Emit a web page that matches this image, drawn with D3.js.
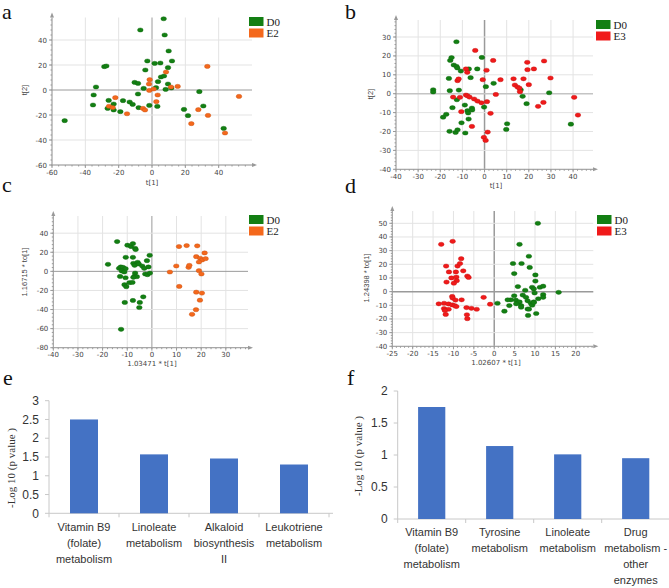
<!DOCTYPE html>
<html>
<head>
<meta charset="utf-8">
<script src="https://cdn.jsdelivr.net/npm/d3@7"></script>
<style>
  body { margin: 0; background: #fff; }
  svg { display: block; }
</style>
</head>
<body>
<svg id="fig" width="669" height="588"></svg>
<script>
const svg = d3.select('#fig');

// ---- data ----
const aD0 = [[-52.4,-24.5],[-35,-4],[-35.4,-12],[-33.6,2.4],[-28.6,18.7],[-27.4,19.2],[-26,-8.3],[-26.6,-14.7],
  [-23,-11.2],[-23,-16],[-19,-17.3],[-17.4,-8.5],[-13.4,-9.6],[-11.6,-11.5],[-10.4,6.1],[-8.4,5.3],[-8.4,-3.2],
  [-8,-14.1],[-7,48],[-5,1.3],[-4,16],[-2.8,23.2],[-1.6,-12.3],[1.6,21.3],[5,21.6],[2.4,1.9],[3.2,-13.1],[3.6,6.7],
  [5.4,10.4],[7,57],[7.6,44],[7.2,11.2],[8.2,0.5],[9.6,4.8],[9.6,17.9],[10,31.2],[12,23.2],[11.6,1.6],[19.2,-15.5],
  [21.6,-20.5],[28.4,-1.3],[30.8,-12.8],[43,-30.7]];
const aE2 = [[-25.8,-13],[-23.6,-14],[-22,-6.1],[-15,-19],[-5.4,-14.7],[-4.2,-16],[-1.4,8.3],[-1.8,4.8],[-1.6,-0.3],
  [1,0.8],[2.6,-9.3],[3.4,-4],[8.4,14.4],[11.4,2.4],[15.4,2.9],[23.6,-26.9],[27.8,-15.7],[33.2,18.9],[33.6,-20.3],
  [43.8,-34.4],[52.2,-5.1]];

const bD0 = [[-23.2,2.1],[-23.2,0.9],[-18.7,-12.4],[-17.3,-10.9],[-15.8,-19.9],[-16.1,8.1],[-15.7,1.6],[-15.5,17.6],
  [-14.9,19.1],[-14.5,-7.4],[-13.9,15.2],[-13.1,-20.5],[-12.7,27.5],[-12.7,14.5],[-12.3,13.6],[-12.5,-3.2],[-12.2,-19.1],
  [-11.6,1.9],[-10.7,12],[-10.4,-15.4],[-8.9,-6],[-8.7,-20.8],[-7.7,-9],[-7.4,-10.2],[-7.2,-13.4],[-7.1,13.1],[-6.3,8.5],
  [-5.7,-7.6],[-5.6,-8.6],[-3.3,13.1],[-1.2,19.2],[-0.2,-7.1],[0.6,3.7],[4.1,5.5],[9.8,-18.9],[10.2,-15.9],[16.3,2.1],
  [17.2,-1.4],[19,-5.3],[29.2,0.5],[39,-16.1]];
const bE3 = [[-4.2,22.9],[-14.2,-1.8],[-12.2,6.9],[-11.7,7.8],[-11.1,-1.9],[-10.5,-9.5],[-8.4,13.1],[-7.8,11.3],
  [-8.4,-0.7],[-7.7,-1.1],[-6.8,-1.8],[-5.7,-17.3],[-4.7,-2.8],[-3.2,-3.9],[-1.4,-4.8],[-0.8,7.4],[-0.3,-23.1],
  [0.5,-24.7],[1.1,-4.2],[0.9,12.4],[1.4,-20.3],[2.7,-10.4],[3.9,17.6],[5.1,-0.4],[7.2,7.4],[13.1,7.9],[13.7,4.6],
  [14.9,3.5],[15.7,3],[16,1.1],[17.6,7.9],[19.3,16.6],[19.4,12.7],[20,4.8],[22.3,13.1],[24.2,-6.7],[26.6,-4.6],
  [26.9,17.3],[29.8,8.3],[40.5,-1.9],[42.2,-11.3]];

const cD0 = [[-14.1,31.2],[-17.8,7.4],[-13.3,3.2],[-12.6,4.6],[-11.7,4.2],[-10.7,2.8],[-12.2,0.4],[-11.2,-0.7],
  [-12.9,-5.3],[-10.7,-6.7],[-11.1,-14],[-10.4,-16.1],[-9.1,-11.9],[-7.9,-11.6],[-10.6,14.7],[-7.7,14.7],[-9.9,27.4],
  [-8.5,26],[-7.7,29.1],[-6.8,24.2],[-6.6,22.8],[-7.5,8.4],[-7,6.3],[-5.8,9.5],[-5.3,7.7],[-6.8,-1.8],[-7,-4.9],
  [-6.1,-5.6],[-7.5,-6.3],[-3.9,5.6],[-3.1,3.2],[-2,11.2],[-1.4,4.6],[-2.7,-2.8],[-1.8,-3.5],[-0.8,-1.8],[-0.9,16.8],
  [-3.5,-26.7],[-11,-32.6],[-7.7,-30.5],[-4.9,-32.6],[-5.1,-37.9],[-12.5,-60.7]];
const cE2 = [[7.3,-0.7],[9.9,5.6],[11,26],[14.1,27],[14.9,4.2],[15.2,6.3],[11.1,-15.8],[18.4,26.7],[18,15.4],
  [21.4,19.3],[19.6,13.7],[20.4,11.9],[21.8,13.3],[19.1,9.8],[19.1,0.7],[20.1,-2.8],[18,-21.8],[20.3,-22.8],
  [19.5,-30.2],[17.9,-40.2],[16.3,-45]];

const dD0 = [[10.7,50],[6.2,34.6],[8.5,25.9],[4.6,20.6],[6.7,20.6],[8.7,17.7],[4.9,13.2],[10.1,12.2],[10.1,7.7],
  [5.8,3.7],[7.6,1],[9.3,3.2],[9.7,2],[11.2,3.2],[12,4],[15.8,-0.5],[12,-2.2],[12,-4.2],[9.9,-1],[10.8,-5.2],
  [4.9,-3],[4.1,-6],[3.3,-6],[5.3,-6.2],[6.2,-7.5],[7,-2.5],[7.8,-4.2],[8.2,-6.7],[9,-8.5],[9.7,-7.5],[6.6,-10.2],
  [8.2,-12.7],[3.7,-10.2],[0.8,-8.5],[2.5,-14.3],[5.4,-8.9],[6.6,-11.4],[8.5,-12.8],[8.3,-17.4],[10.3,-16],
  [9.3,-9.9],[9.7,-8]];
const dE3 = [[-13,34.6],[-10.2,36.8],[-11.8,18.7],[-11.7,7],[-11.1,14.4],[-10.5,10],[-9.4,14.4],[-9.3,10.7],
  [-9.2,8],[-9,18.7],[-8.4,20.6],[-8.1,24.1],[-7.6,15.2],[-6.6,11.4],[-6.3,10.4],[-9.9,6.2],[-10.3,-3.5],[-10.2,-4.7],
  [-9.5,-6.2],[-8,-6],[-2.6,-4.2],[-13.6,-8.9],[-12.3,-8.5],[-11.2,-9],[-10.3,-9.7],[-9.7,-10.2],[-9.3,-10.9],
  [-12.3,-12.4],[-11.2,-12.9],[-6.8,-11.7],[-5.6,-12.2],[-4.3,-12.9],[-1,-9.2],[-12.1,-13.8],[-11.9,-16.7],
  [-6.7,-16.9],[-6.6,-19.8]];

const eCategories = [['Vitamin B9', '(folate)', 'metabolism'], ['Linoleate', 'metabolism'],
  ['Alkaloid', 'biosynthesis', 'II'], ['Leukotriene', 'metabolism']];
const eValues = [2.5, 1.57, 1.46, 1.3];
const eTicks = [0, 0.5, 1, 1.5, 2, 2.5, 3];

const fCategories = [['Vitamin B9', '(folate)', 'metabolism'], ['Tyrosine', 'metabolism'],
  ['Linoleate', 'metabolism'], ['Drug', 'metabolism -', 'other', 'enzymes']];
const fValues = [1.75, 1.14, 1.01, 0.95];
const fTicks = [0, 0.5, 1, 1.5, 2];

const GREEN = '#137f13';
const ORANGE = '#f4681c';
const RED = '#f01a1a';
const BLUE = '#4472c4';
const SERIF = 'Liberation Serif, Times New Roman, serif';

// ---- scatter panels ----
function scatter (p) {
  const x = d3.scaleLinear().domain(p.xDom).range(p.xRange);
  const y = d3.scaleLinear().domain(p.yDom).range(p.yRange);
  const g = svg.append('g');
  const x0 = p.xRange[0], x1 = p.xRange[1], y0 = p.yRange[0], y1 = p.yRange[1];

  // grid
  g.selectAll('line.gx').data(p.xTicks).enter().append('line')
    .attr('x1', d => x(d)).attr('x2', d => x(d)).attr('y1', y0).attr('y2', y1)
    .attr('stroke', d => d === 0 ? '#9a9a9a' : '#e3e3e3').attr('stroke-width', d => d === 0 ? p.zeroW : 1);
  g.selectAll('line.gy').data(p.yTicks).enter().append('line')
    .attr('y1', d => y(d)).attr('y2', d => y(d)).attr('x1', x0).attr('x2', x1)
    .attr('stroke', d => d === 0 ? (p.zeroH || '#9a9a9a') : '#e3e3e3').attr('stroke-width', d => d === 0 ? p.zeroW : 1);

  // axes with minor ticks
  const xStep = p.xTicks[1] - p.xTicks[0], yStep = p.yTicks[1] - p.yTicks[0];
  const xMinor = d3.range(p.xDom[0], p.xDom[1], xStep / 5);
  const yMinor = d3.range(p.yDom[0], p.yDom[1], yStep / 5);
  g.append('line').attr('x1', x0).attr('x2', x1).attr('y1', y0).attr('y2', y0).attr('stroke', '#999');
  g.append('line').attr('x1', x0).attr('x2', x0).attr('y1', y0).attr('y2', y1).attr('stroke', '#999');
  g.selectAll('line.mx').data(xMinor).enter().append('line')
    .attr('x1', d => x(d)).attr('x2', d => x(d)).attr('y1', y0).attr('y2', y0 + 1.5).attr('stroke', '#999');
  g.selectAll('line.my').data(yMinor).enter().append('line')
    .attr('y1', d => y(d)).attr('y2', d => y(d)).attr('x1', x0).attr('x2', x0 - 1.5).attr('stroke', '#999');
  g.selectAll('line.tx').data(p.xTicks).enter().append('line')
    .attr('x1', d => x(d)).attr('x2', d => x(d)).attr('y1', y0).attr('y2', y0 + 3).attr('stroke', '#999');
  g.selectAll('line.ty').data(p.yTicks).enter().append('line')
    .attr('y1', d => y(d)).attr('y2', d => y(d)).attr('x1', x0).attr('x2', x0 - 3).attr('stroke', '#999');
  g.append('path').attr('d', `M${x1},${y0 - 2}L${x1 + 5},${y0}L${x1},${y0 + 2}Z`).attr('fill', '#999');
  g.append('path').attr('d', `M${x0 - 2},${y1}L${x0},${y1 - 5}L${x0 + 2},${y1}Z`).attr('fill', '#999');

  const tickFont = 'DejaVu Sans, Verdana, sans-serif';
  g.selectAll('text.tx').data(p.xTicks).enter().append('text')
    .attr('x', d => x(d)).attr('y', y0 + 9.5).attr('text-anchor', 'middle')
    .attr('font-family', tickFont).attr('font-size', 7).attr('fill', '#444').text(d => d);
  g.selectAll('text.ty').data(p.yTicks).enter().append('text')
    .attr('x', x0 - 5).attr('y', d => y(d) + 2.5).attr('text-anchor', 'end')
    .attr('font-family', tickFont).attr('font-size', 7).attr('fill', '#444').text(d => d);

  // axis titles
  g.append('text').attr('x', p.xLabelPos[0]).attr('y', p.xLabelPos[1]).attr('text-anchor', 'middle')
    .attr('font-family', tickFont).attr('font-size', 7).attr('fill', '#444').text(p.xLabel);
  g.append('text').attr('transform', `translate(${p.yLabelPos[0]},${p.yLabelPos[1]}) rotate(-90)`)
    .attr('text-anchor', 'middle').attr('font-family', 'Liberation Sans Narrow, Liberation Sans, sans-serif')
    .attr('font-size', 7.5).attr('fill', '#444').text(p.yLabel);

  // points
  p.series.forEach(s => {
    g.selectAll(null).data(s.data).enter().append('ellipse')
      .attr('cx', d => x(d[0])).attr('cy', d => y(d[1]))
      .attr('rx', 2.8).attr('ry', 2.1)
      .attr('fill', s.color).attr('stroke', d3.color(s.color).darker(0.6)).attr('stroke-width', 0.4);
  });

  // legend
  p.series.forEach((s, i) => {
    g.append('rect').attr('x', p.legend[0]).attr('y', p.legend[1] + i * 11.5)
      .attr('width', 14.5).attr('height', 9).attr('fill', s.color);
    g.append('text').attr('x', p.legend[0] + 17.5).attr('y', p.legend[1] + i * 11.5 + 8.5)
      .attr('font-family', SERIF).attr('font-size', 11).attr('fill', '#222').text(s.name);
  });

  svg.append('text').attr('x', p.letter[0]).attr('y', p.letter[1])
    .attr('font-family', SERIF).attr('font-size', 22).attr('fill', '#111').text(p.letterText);
}

scatter({
  xDom: [-60, 60], xRange: [52, 252], yDom: [-60, 58], yRange: [165, 17.5],
  xTicks: [-60, -40, -20, 0, 20, 40], yTicks: [-60, -40, -20, 0, 20, 40],
  xLabel: 't[1]', xLabelPos: [152, 185], yLabel: 't[2]', yLabelPos: [27, 90],
  series: [{ name: 'D0', color: GREEN, data: aD0 }, { name: 'E2', color: ORANGE, data: aE2 }],
  legend: [249, 17], letter: [2, 19], letterText: 'a', zeroW: 1
});
scatter({
  xDom: [-40, 49], xRange: [396, 593], yDom: [-40, 39], yRange: [169.3, 20],
  xTicks: [-40, -30, -20, -10, 0, 10, 20, 30, 40], yTicks: [-40, -30, -20, -10, 0, 10, 20, 30],
  xLabel: 't[1]', xLabelPos: [496, 188], yLabel: 't[2]', yLabelPos: [373, 94],
  series: [{ name: 'D0', color: GREEN, data: bD0 }, { name: 'E3', color: RED, data: bE3 }],
  legend: [596, 20], letter: [345, 19], letterText: 'b', zeroW: 1.5, zeroH: '#c4c4c4'
});
scatter({
  xDom: [-40, 39], xRange: [53.3, 248], yDom: [-80, 58], yRange: [347.7, 216],
  xTicks: [-40, -30, -20, -10, 0, 10, 20, 30], yTicks: [-80, -60, -40, -20, 0, 20, 40],
  xLabel: '1.03471 * t[1]', xLabelPos: [152, 366], yLabel: '1.16715 * to[1]', yLabelPos: [27, 272],
  series: [{ name: 'D0', color: GREEN, data: cD0 }, { name: 'E2', color: ORANGE, data: cE2 }],
  legend: [249, 215], letter: [2, 192], letterText: 'c', zeroW: 1
});
scatter({
  xDom: [-25, 24.3], xRange: [392.3, 593.3], yDom: [-40, 59], yRange: [346.3, 211],
  xTicks: [-25, -20, -15, -10, -5, 0, 5, 10, 15, 20], yTicks: [-40, -30, -20, -10, 0, 10, 20, 30, 40, 50],
  xLabel: '1.02607 * t[1]', xLabelPos: [496, 365], yLabel: '1.24398 * to[1]', yLabelPos: [369, 278],
  series: [{ name: 'D0', color: GREEN, data: dD0 }, { name: 'E3', color: RED, data: dE3 }],
  legend: [597, 215], letter: [345, 193], letterText: 'd', zeroW: 1.5
});

// ---- bar panels ----
function bars (p) {
  const x = d3.scaleBand().domain(d3.range(p.values.length)).range(p.xRange);
  const y = d3.scaleLinear().domain([0, p.ticks[p.ticks.length - 1]]).range(p.yRange);
  const g = svg.append('g');
  const y0 = p.yRange[0];
  const font = 'Liberation Sans, Arial, sans-serif';

  g.append('line').attr('x1', p.xRange[0]).attr('x2', p.xRange[0]).attr('y1', y0).attr('y2', p.yRange[1])
    .attr('stroke', '#c8c8c8');
  g.append('line').attr('x1', p.xRange[0]).attr('x2', p.xRange[1] + 4).attr('y1', y0).attr('y2', y0)
    .attr('stroke', '#c8c8c8');
  g.selectAll('line.ty').data(p.ticks).enter().append('line')
    .attr('x1', p.xRange[0] - 4).attr('x2', p.xRange[0]).attr('y1', d => y(d)).attr('y2', d => y(d))
    .attr('stroke', '#c8c8c8');
  g.selectAll('line.tx').data(d3.range(p.values.length + 1)).enter().append('line')
    .attr('x1', d => p.xRange[0] + d * x.step()).attr('x2', d => p.xRange[0] + d * x.step())
    .attr('y1', y0).attr('y2', y0 + 4).attr('stroke', '#c8c8c8');

  g.selectAll('text.ty').data(p.ticks).enter().append('text')
    .attr('x', p.xRange[0] - 10).attr('y', d => y(d) + 4.2).attr('text-anchor', 'end')
    .attr('font-family', font).attr('font-size', 12).attr('fill', '#333').text(d => d);

  const bw = x.bandwidth() * 0.4;
  g.selectAll('rect').data(p.values).enter().append('rect')
    .attr('x', (d, i) => x(i) + x.bandwidth() / 2 - bw / 2).attr('width', bw)
    .attr('y', d => y(d)).attr('height', d => y0 - y(d)).attr('fill', BLUE);

  p.cats.forEach((lines, i) => {
    lines.forEach((t, j) => {
      g.append('text').attr('x', x(i) + x.bandwidth() / 2).attr('y', y0 + p.catTop + j * 16)
        .attr('text-anchor', 'middle').attr('font-family', font).attr('font-size', 11)
        .attr('fill', '#333').text(t);
    });
  });

  g.append('text').attr('transform', `translate(${p.yLabelPos[0]},${p.yLabelPos[1]}) rotate(-90)`)
    .attr('text-anchor', 'middle').attr('font-family', SERIF)
    .attr('font-size', 11).attr('fill', '#333').text('-Log 10 (p value )');

  svg.append('text').attr('x', p.letter[0]).attr('y', p.letter[1])
    .attr('font-family', SERIF).attr('font-size', 22).attr('fill', '#111').text(p.letterText);
}

bars({ cats: eCategories, values: eValues, ticks: eTicks, xRange: [49, 329], yRange: [513.3, 400.7],
  catTop: 17.5, yLabelPos: [15, 468], letter: [3, 385], letterText: 'e' });
bars({ cats: fCategories, values: fValues, ticks: fTicks, xRange: [397.7, 669.7], yRange: [519, 391],
  catTop: 16.5, yLabelPos: [362, 456], letter: [347, 385], letterText: 'f' });
</script>
</body>
</html>
